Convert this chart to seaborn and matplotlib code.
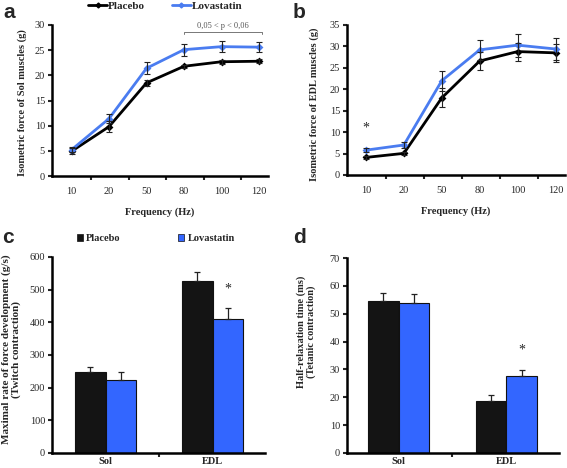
import numpy as np
import pandas as pd
import matplotlib
matplotlib.use("Agg")
import matplotlib.pyplot as plt
import seaborn as sns
from matplotlib.lines import Line2D
from matplotlib.patches import Patch
from matplotlib.ticker import FixedLocator, MultipleLocator

# --- data ---
freqs = ["10", "20", "50", "80", "100", "120"]
groups = ["Placebo", "Lovastatin"]

sol_placebo = [4.9, 9.8, 18.5, 21.8, 22.7, 22.8]
sol_placebo_err = [0.6, 1.1, 0.6, 0.3, 0.4, 0.4]
sol_lova = [5.2, 11.4, 21.4, 25.1, 25.7, 25.6]
sol_lova_err = [0.5, 0.9, 1.2, 1.2, 1.1, 1.0]

edl_placebo = [4.1, 5.05, 18.0, 26.6, 28.8, 28.5]
edl_placebo_err = [0.3, 0.4, 2.2, 2.1, 2.1, 2.1]
edl_lova = [5.8, 7.0, 22.0, 29.2, 30.3, 29.4]
edl_lova_err = [0.4, 0.6, 2.3, 2.4, 2.7, 2.6]

muscles = ["Sol", "EDL"]
rate_placebo = [248, 527]
rate_placebo_err = [14, 28]
rate_lova = [222, 409]
rate_lova_err = [26, 34]

relax_placebo = [54.4, 18.7]
relax_placebo_err = [3.0, 2.3]
relax_lova = [53.9, 27.8]
relax_lova_err = [3.1, 2.1]

black = "#000000"
blue_line = "#4A7CF0"
blue_bar = "#3366FF"
palette = {"Placebo": "#141414", "Lovastatin": blue_bar}

sns.set_style("white")
plt.rcParams["font.family"] = ["Liberation Serif", "DejaVu Serif"]
plt.rcParams["axes.linewidth"] = 1.8

fig = plt.figure(figsize=(5.67, 4.68), dpi=100)
W, H = 567.0, 468.0


def add_ax(left, top, right, bottom):
    return fig.add_axes([left / W, 1 - bottom / H, (right - left) / W, (bottom - top) / H])


def style_axis(ax):
    sns.despine(ax=ax)
    ax.spines["left"].set_color("black")
    ax.spines["bottom"].set_color("black")
    ax.tick_params(axis="y", which="major", direction="out", length=3, width=1.5,
                   labelsize=7.5, pad=2, left=True)
    ax.tick_params(axis="x", which="major", length=0, labelsize=7.5, pad=8)
    ax.tick_params(axis="x", which="minor", direction="out", length=3, width=1.5, bottom=True)


def line_panel(ax, placebo, placebo_err, lova, lova_err, ymax, ylabel):
    df = pd.DataFrame({
        "freq": freqs * 2,
        "force": placebo + lova,
        "group": ["Placebo"] * len(freqs) + ["Lovastatin"] * len(freqs),
    })
    sns.pointplot(data=df, x="freq", y="force", hue="group", order=freqs,
                  hue_order=groups, palette={"Placebo": black, "Lovastatin": blue_line},
                  errorbar=None, markers="D", markersize=2.5, linewidth=2.0,
                  ax=ax, legend=False)
    xs = np.arange(len(freqs))
    ax.errorbar(xs, placebo, yerr=placebo_err, fmt="none", ecolor="#222222",
                elinewidth=0.8, capsize=2, capthick=0.8, zorder=5)
    ax.errorbar(xs, lova, yerr=lova_err, fmt="none", ecolor="#222222",
                elinewidth=0.8, capsize=2, capthick=0.8, zorder=5)
    ax.set_ylim(0, ymax)
    ax.yaxis.set_major_locator(MultipleLocator(5))
    ax.set_xlim(-0.52, len(freqs) - 0.76)
    ax.xaxis.set_minor_locator(FixedLocator(xs[:-1] + 0.53))
    style_axis(ax)
    ax.set_xlabel("Frequency (Hz)", fontsize=7.5, fontweight="bold", labelpad=8)
    ax.set_ylabel(ylabel, fontsize=7.5, fontweight="bold")


def bar_panel(ax, placebo, placebo_err, lova, lova_err, ymax, step, ylabel, xlim, label_size):
    df = pd.DataFrame({
        "muscle": muscles * 2,
        "value": placebo + lova,
        "group": ["Placebo"] * len(muscles) + ["Lovastatin"] * len(muscles),
    })
    sns.barplot(data=df, x="muscle", y="value", hue="group", order=muscles,
                hue_order=groups, palette=palette, errorbar=None, width=0.57,
                saturation=1, edgecolor="#111111", linewidth=0.8, ax=ax, legend=False)
    for container, err in zip(ax.containers, [placebo_err, lova_err]):
        centers = [b.get_x() + b.get_width() / 2 for b in container]
        heights = [b.get_height() for b in container]
        ax.errorbar(centers, heights, yerr=[np.zeros(len(err)), err], fmt="none",
                    ecolor="#222222", elinewidth=0.9, capsize=2, capthick=0.9, zorder=5)
    ax.set_ylim(0, ymax)
    ax.yaxis.set_major_locator(MultipleLocator(step))
    ax.set_xlim(*xlim)
    ax.xaxis.set_minor_locator(FixedLocator([0.5]))
    style_axis(ax)
    ax.tick_params(axis="x", which="major", pad=3)
    for lab in ax.get_xticklabels():
        lab.set_fontweight("bold")
    ax.set_xlabel("")
    ax.set_ylabel(ylabel, fontsize=label_size, fontweight="bold", linespacing=1.1)
    return ax


# --- panel a ---
ax_a = add_ax(52, 25, 268, 176)
line_panel(ax_a, sol_placebo, sol_placebo_err, sol_lova, sol_lova_err, 30,
           "Isometric force of Sol muscles (g)")
ax_a.yaxis.set_label_coords(-0.116, 0.487)
ax_a.plot([3.0, 3.0, 5.08, 5.08], [28.3, 28.6, 28.6, 28.3], color="#777777", lw=0.7,
          clip_on=False)
ax_a.text(4.04, 29.0, "0,05 < p < 0,06", ha="center", va="bottom", fontsize=6,
          color="#555555")
handles = [Line2D([], [], color=black, lw=2, marker="D", markersize=2.5),
           Line2D([], [], color=blue_line, lw=2, marker="D", markersize=2.5)]
ax_a.legend(handles, groups, ncol=2, loc="center", bbox_to_anchor=(0.525, 1.125),
            frameon=False, handlelength=1.7, handletextpad=0.1,
            columnspacing=2.4, prop={"weight": "bold", "size": 8})

# --- panel b ---
ax_b = add_ax(347, 25, 565, 175)
line_panel(ax_b, edl_placebo, edl_placebo_err, edl_lova, edl_lova_err, 35,
           "Isometric force of EDL muscles (g)")
ax_b.yaxis.set_label_coords(-0.128, 0.47)
ax_b.set_xlim(-0.5, len(freqs) - 0.75)
ax_b.text(0, 11.0, "*", ha="center", va="center", fontsize=10)

# --- panel c ---
ax_c = add_ax(52, 257, 265, 453)
bar_panel(ax_c, rate_placebo, rate_placebo_err, rate_lova, rate_lova_err, 600, 100,
          "Maximal rate of force development (g/s)\n(Twitch contraction)", (-0.5, 1.49), 8.0)
ax_c.yaxis.set_label_coords(-0.146, 0.53)
edl_lova_bar = ax_c.containers[1][1]
ax_c.text(edl_lova_bar.get_x() + edl_lova_bar.get_width() / 2, 502, "*",
          ha="center", va="center", fontsize=10)
bar_handles = [Patch(facecolor=palette[g], edgecolor="#111111", linewidth=0.5) for g in groups]
ax_c.legend(bar_handles, groups, ncol=2, loc="center", bbox_to_anchor=(0.487, 1.095),
            frameon=False, handlelength=0.6, handleheight=0.7, handletextpad=0.3,
            columnspacing=5.5, prop={"weight": "bold", "size": 7.5})

# --- panel d ---
ax_d = add_ax(347, 258, 559, 453)
bar_panel(ax_d, relax_placebo, relax_placebo_err, relax_lova, relax_lova_err, 70, 10,
          "Half-relaxation time (ms)\n(Tetanic contraction)", (-0.48, 1.49), 7.5)
ax_d.yaxis.set_label_coords(-0.146, 0.62)
edl_lova_bar = ax_d.containers[1][1]
ax_d.text(edl_lova_bar.get_x() + edl_lova_bar.get_width() / 2, 36.8, "*",
          ha="center", va="center", fontsize=10)

# --- panel letters ---
for letter, x, y in [("a", 3, 3), ("b", 293, 3), ("c", 2, 228), ("d", 293, 228)]:
    fig.text(x / W, 1 - y / H, letter, ha="left", va="top", fontsize=15,
             fontweight="bold", family=["Liberation Sans", "DejaVu Sans"])

fig.savefig("out.png", dpi=100, facecolor="white")
